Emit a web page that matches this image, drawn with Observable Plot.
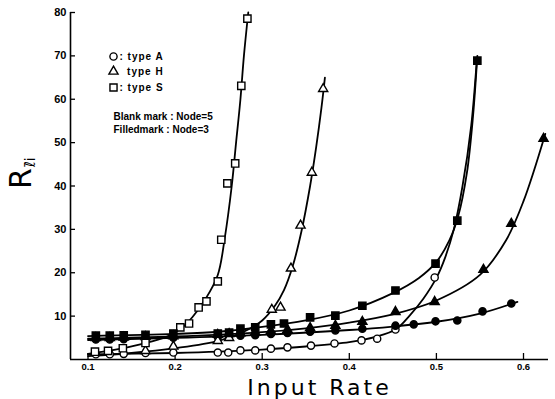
<!DOCTYPE html>
<html><head><meta charset="utf-8">
<script src="https://cdn.jsdelivr.net/npm/d3@7"></script>
<script src="https://cdn.jsdelivr.net/npm/@observablehq/plot@0.6"></script>
<style>body{margin:0;background:#fff}</style>
</head><body><div id="chart"></div>
<script>
// ---- axis ticks ----
const xTicks = [0.1, 0.2, 0.3, 0.4, 0.5, 0.6];
const yTicks = [10, 20, 30, 40, 50, 60, 70, 80];

// ---- measured points (Input Rate, R) ----
// type A, Node=5 (open circles)
const A5_rate = [0.109,0.125,0.141,0.166,0.198,0.249,0.261,0.275,0.292,0.31,0.329,0.356,0.383,0.414,0.432,0.453,0.498];
const A5_R    = [1.2,1.2,1.3,1.5,1.6,1.6,1.6,2.1,2.1,2.5,2.8,3.2,3.7,4.4,4.8,6.9,18.9];
// type A, Node=3 (filled circles)
const A3_rate = [0.109,0.125,0.141,0.166,0.198,0.249,0.262,0.275,0.292,0.31,0.329,0.355,0.384,0.415,0.453,0.474,0.499,0.524,0.553,0.586];
const A3_R    = [4.6,4.6,4.7,4.8,5.0,5.2,5.3,5.5,5.6,5.9,6.1,6.4,6.7,7.1,7.8,8.1,8.8,9.0,11.1,12.9];
// type H, Node=5 (open triangles)
const H5_rate = [0.166,0.198,0.249,0.262,0.311,0.321,0.333,0.344,0.357,0.370];
const H5_R    = [2.0,3.0,4.3,5.0,11.5,12.0,21.0,30.9,43.1,62.4];
// type H, Node=3 (filled triangles)
const H3_rate = [0.109,0.125,0.141,0.166,0.198,0.249,0.262,0.275,0.292,0.31,0.329,0.355,0.384,0.415,0.453,0.498,0.554,0.586,0.623];
const H3_R    = [5.0,5.0,5.1,5.2,5.4,5.7,5.9,6.1,6.3,6.6,6.9,7.3,7.8,8.7,11.0,13.3,20.7,31.3,50.9];
// type S, Node=5 (open squares)
const S5_rate = [0.108,0.123,0.140,0.166,0.206,0.216,0.227,0.236,0.249,0.253,0.260,0.269,0.276,0.283];
const S5_R    = [1.8,2.0,2.6,3.8,7.4,8.3,12.0,13.4,18.0,27.6,40.6,45.2,63.1,78.6];
// type S, Node=3 (filled squares)
const S3_rate = [0.109,0.125,0.141,0.166,0.198,0.249,0.262,0.275,0.292,0.31,0.325,0.355,0.384,0.415,0.453,0.499,0.524,0.547];
const S3_R    = [5.5,5.5,5.6,5.7,6.0,6.0,6.2,7.1,7.4,8.1,8.3,9.7,10.1,12.4,15.9,22.1,32.0,68.9];

// ---- fitted curves ----
const A5_fitRate = [0.1,0.2,0.25,0.3,0.35,0.4,0.43,0.453,0.47,0.485,0.5,0.51,0.52,0.53,0.54,0.546];
const A5_fitR    = [1.2,1.5,1.8,2.3,3.0,4.0,5.2,6.9,10.3,14,18.8,23.5,30,40,54,68];
const A3_fitRate = [0.1,0.2,0.3,0.4,0.45,0.5,0.55,0.593];
const A3_fitR    = [4.5,5.0,5.7,6.8,7.6,8.7,10.6,13.3];
const H5_fitRate = [0.1,0.15,0.2,0.25,0.28,0.3,0.315,0.325,0.335,0.345,0.355,0.362,0.368,0.372];
const H5_fitR    = [0.8,1.5,2.6,4.3,6.5,9.0,12.5,16,21.5,29.5,40,49,58,65];
const H3_fitRate = [0.1,0.2,0.3,0.35,0.4,0.45,0.5,0.55,0.58,0.6,0.625];
const H3_fitR    = [4.8,5.3,6.3,7.2,8.5,10.4,13.6,19.5,27.5,36.5,52];
const S5_fitRate = [0.1,0.13,0.16,0.19,0.206,0.22,0.235,0.249,0.257,0.265,0.27,0.275,0.279,0.284];
const S5_fitR    = [1.3,2.2,3.5,5.2,7.0,9.8,14,19.5,28,40,50,60,70,80];
const S3_fitRate = [0.1,0.2,0.25,0.3,0.35,0.4,0.45,0.48,0.5,0.515,0.525,0.535,0.542,0.547];
const S3_fitR    = [5.4,5.9,6.4,7.5,9.0,11.3,15.3,18.8,22.5,27.5,33,43,56,70];

const series = [
  {key:"A5", symbol:"circle",   filled:false, rate:A5_rate, R:A5_R, fr:A5_fitRate, fR:A5_fitR},
  {key:"A3", symbol:"circle",   filled:true,  rate:A3_rate, R:A3_R, fr:A3_fitRate, fR:A3_fitR},
  {key:"H5", symbol:"triangle", filled:false, rate:H5_rate, R:H5_R, fr:H5_fitRate, fR:H5_fitR},
  {key:"H3", symbol:"triangle", filled:true,  rate:H3_rate, R:H3_R, fr:H3_fitRate, fR:H3_fitR},
  {key:"S5", symbol:"square",   filled:false, rate:S5_rate, R:S5_R, fr:S5_fitRate, fR:S5_fitR},
  {key:"S3", symbol:"square",   filled:true,  rate:S3_rate, R:S3_R, fr:S3_fitRate, fR:S3_fitR}
];
const pts = series.flatMap(s => s.rate.map((x, i) => ({x, y: s.R[i], key: s.key, symbol: s.symbol, filled: s.filled})));
const fits = series.flatMap(s => s.fr.map((x, i) => ({x, y: s.fR[i], key: s.key})));

const sizes = {circle: 3.6, triangle: 3.4, square: 4.1};
const dotMarks = ["circle", "triangle", "square"].map(sym =>
  Plot.dot(pts.filter(d => d.symbol === sym), {
    x: "x", y: "y", symbol: sym, r: sizes[sym],
    fill: d => d.filled ? "black" : "white", stroke: "black", strokeWidth: 1.4
  })
);

const fontFamily = "'Liberation Sans', Arial, sans-serif";
const legendText = (t, dx, dy) => Plot.text([t], {frameAnchor: "top-left", dx, dy, textAnchor: "start", lineAnchor: "middle", fontSize: 10, fontWeight: "bold"});

const chart = Plot.plot({
  width: 555, height: 399,
  marginLeft: 70, marginRight: 7, marginTop: 12, marginBottom: 40,
  style: {fontFamily, background: "#fff", color: "black"},
  x: {domain: [0.0799, 0.6287], label: null},
  y: {domain: [0, 80], label: null},
  marks: [
    Plot.ruleX([0.0799], {stroke: "black", strokeWidth: 1.6}),
    Plot.ruleY([0], {stroke: "black", strokeWidth: 1.6}),
    Plot.axisY(yTicks, {tickSize: 0, tickPadding: 4, fontSize: 11, fontWeight: "bold", label: null}),
    Plot.axisY(yTicks, {text: null, tickSize: 5, dx: 5, strokeWidth: 1.3, label: null}),
    Plot.axisX(xTicks, {tickSize: 0, tickPadding: 4, fontSize: 9.5, fontWeight: "bold", label: null}),
    Plot.axisX(xTicks, {text: null, tickSize: 6, dy: -6, strokeWidth: 1.3, label: null}),
    Plot.line(fits, {x: "x", y: "y", z: "key", curve: "catmull-rom", stroke: "black", strokeWidth: 1.8}),
    ...dotMarks,
    // legend
    Plot.dot(["circle"], {symbol: d => d, frameAnchor: "top-left", dx: 43, dy: 44, r: 3.6, stroke: "black", fill: "white", strokeWidth: 1.4}),
    Plot.dot(["triangle"], {symbol: d => d, frameAnchor: "top-left", dx: 43, dy: 59, r: 3.4, stroke: "black", fill: "white", strokeWidth: 1.4}),
    Plot.dot(["square"], {symbol: d => d, frameAnchor: "top-left", dx: 43, dy: 75, r: 4.0, stroke: "black", fill: "white", strokeWidth: 1.4}),
    legendText(": type A", 49, 44),
    legendText("  type H", 49, 59),
    legendText(": type S", 49, 75),
    legendText("Blank mark : Node=5", 43, 104),
    legendText("Filledmark : Node=3", 43, 117),
    // axis titles
    Plot.text(["Input Rate"], {frameAnchor: "bottom", dx: 10, dy: 35, lineAnchor: "bottom", fontSize: 22, fontFamily: "'DejaVu Sans', sans-serif"}),
    Plot.text(["R"], {frameAnchor: "left", dx: -49, dy: 3, textAnchor: "start", rotate: -90, fontSize: 30, fontFamily: "'DejaVu Sans', sans-serif"}),
    Plot.text(["ℓ̄i"], {frameAnchor: "left", dx: -40, dy: -19, textAnchor: "start", rotate: -90, fontSize: 14, fontFamily: "'DejaVu Sans', sans-serif"})
  ]
});
d3.select(chart).selectAll("text").filter(function() { return this.textContent === "Input Rate"; })
  .attr("letter-spacing", "3px");
d3.select(chart).selectAll("text").filter(function() { return /type /.test(this.textContent); })
  .attr("letter-spacing", "1px");
document.getElementById("chart").appendChild(chart);
</script>
</body></html>
